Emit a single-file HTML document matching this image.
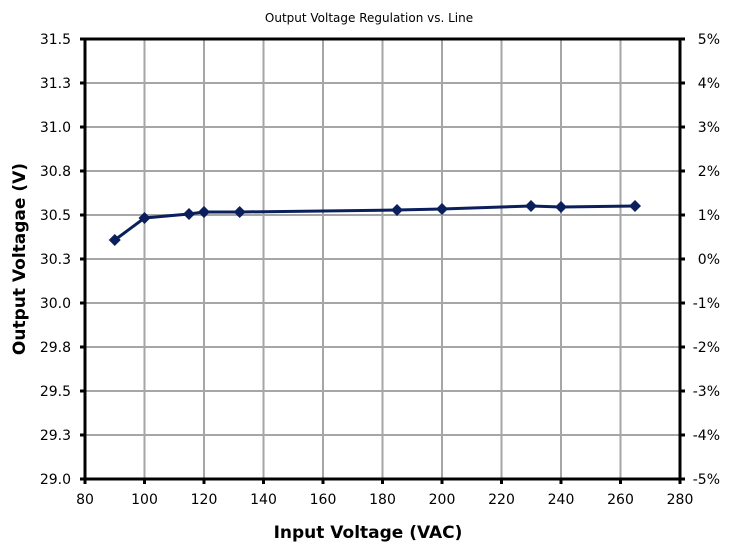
<!DOCTYPE html>
<html><head><style>body{margin:0;background:#fff}svg{display:block}text{font-family:"DejaVu Sans","Liberation Sans",sans-serif}</style></head><body>
<svg width="739" height="551" viewBox="0 0 739 551" xmlns="http://www.w3.org/2000/svg">
<rect width="739" height="551" fill="#fff"/>
<text x="369" y="22" font-size="12" text-anchor="middle">Output Voltage Regulation vs. Line</text>
<g stroke="#a6a6a6" stroke-width="2">
<line x1="144.5" y1="39" x2="144.5" y2="479"/><line x1="204" y1="39" x2="204" y2="479"/><line x1="263.5" y1="39" x2="263.5" y2="479"/><line x1="323" y1="39" x2="323" y2="479"/><line x1="382.5" y1="39" x2="382.5" y2="479"/><line x1="442" y1="39" x2="442" y2="479"/><line x1="501.5" y1="39" x2="501.5" y2="479"/><line x1="561" y1="39" x2="561" y2="479"/><line x1="620.5" y1="39" x2="620.5" y2="479"/>
<line x1="85" y1="83" x2="680" y2="83"/><line x1="85" y1="127" x2="680" y2="127"/><line x1="85" y1="171" x2="680" y2="171"/><line x1="85" y1="215" x2="680" y2="215"/><line x1="85" y1="259" x2="680" y2="259"/><line x1="85" y1="303" x2="680" y2="303"/><line x1="85" y1="347" x2="680" y2="347"/><line x1="85" y1="391" x2="680" y2="391"/><line x1="85" y1="435" x2="680" y2="435"/>
</g>
<rect x="85" y="39" width="595" height="440" fill="none" stroke="#000" stroke-width="3"/>
<g stroke="#000" stroke-width="3">
<path d="M80 39h5M80 83h5M80 127h5M80 171h5M80 215h5M80 259h5M80 303h5M80 347h5M80 391h5M80 435h5M80 479h5"/>
<path d="M680 39h5M680 83h5M680 127h5M680 171h5M680 215h5M680 259h5M680 303h5M680 347h5M680 391h5M680 435h5M680 479h5"/>
<path d="M85 479v5M144.5 479v5M204 479v5M263.5 479v5M323 479v5M382.5 479v5M442 479v5M501.5 479v5M561 479v5M620.5 479v5M680 479v5"/>
</g>
<g font-size="14" text-anchor="end">
<text x="71" y="44">31.5</text><text x="71" y="88">31.3</text><text x="71" y="132">31.0</text><text x="71" y="176">30.8</text><text x="71" y="220">30.5</text><text x="71" y="264">30.3</text><text x="71" y="308">30.0</text><text x="71" y="352">29.8</text><text x="71" y="396">29.5</text><text x="71" y="440">29.3</text><text x="71" y="484">29.0</text>
</g>
<g font-size="14" text-anchor="end">
<text x="720" y="44">5%</text><text x="720" y="88">4%</text><text x="720" y="132">3%</text><text x="720" y="176">2%</text><text x="720" y="220">1%</text><text x="720" y="264">0%</text><text x="720" y="308">-1%</text><text x="720" y="352">-2%</text><text x="720" y="396">-3%</text><text x="720" y="440">-4%</text><text x="720" y="484">-5%</text>
</g>
<g font-size="14" text-anchor="middle">
<text x="85" y="504">80</text><text x="144.5" y="504">100</text><text x="204" y="504">120</text><text x="263.5" y="504">140</text><text x="323" y="504">160</text><text x="382.5" y="504">180</text><text x="442" y="504">200</text><text x="501.5" y="504">220</text><text x="561" y="504">240</text><text x="620.5" y="504">260</text><text x="680" y="504">280</text>
</g>
<text x="368" y="538" font-size="17" font-weight="bold" text-anchor="middle">Input Voltage (VAC)</text>
<text transform="translate(25,259) rotate(-90)" font-size="17" font-weight="bold" text-anchor="middle">Output Voltagae (V)</text>
<polyline fill="none" stroke="#0a1f5c" stroke-width="3" points="114.75,240 144.5,218 189,214 204,212 239.7,212 397,210 442,209 531,206 561,207 635,206"/>
<g fill="#0a1f5c">
<path d="M114.75 234l6 6-6 6-6-6z"/><path d="M144.5 212l6 6-6 6-6-6z"/><path d="M189 208l6 6-6 6-6-6z"/><path d="M204 206l6 6-6 6-6-6z"/><path d="M239.7 206l6 6-6 6-6-6z"/><path d="M397 204l6 6-6 6-6-6z"/><path d="M442 203l6 6-6 6-6-6z"/><path d="M531 200l6 6-6 6-6-6z"/><path d="M561 201l6 6-6 6-6-6z"/><path d="M635 200l6 6-6 6-6-6z"/>
</g>
</svg>
</body></html>
